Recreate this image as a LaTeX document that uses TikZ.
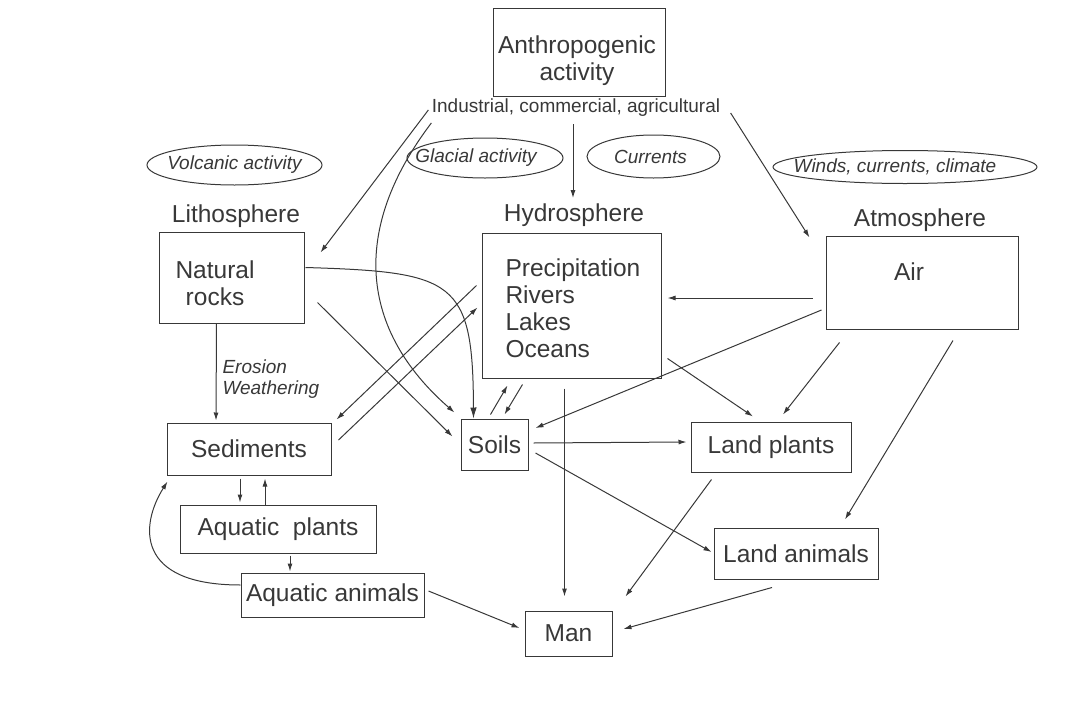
\documentclass[tikz,border=0pt]{standalone}
\usepackage{fontspec}
\setmainfont{Liberation Sans}
\usepackage{tikz}
\usetikzlibrary{shapes.geometric,arrows.meta,calc}
\definecolor{ink}{HTML}{383838}

\begin{document}
\begin{tikzpicture}
[x=1pt, y=-1pt, line width=1pt, color=ink,
 box/.style={draw, rectangle, inner sep=0pt, font=\fontsize{24.5}{27}\selectfont},
 word/.style={inner sep=0pt, font=\fontsize{24.5}{27}\selectfont},
 note/.style={inner sep=0pt, font=\fontsize{19}{21}\selectfont},
 oval/.style={draw, ellipse, inner sep=0pt},
 ovaltext/.style={inner sep=0pt, font=\fontsize{19}{21}\selectfont\itshape},
 arr/.style={-{Latex[length=8pt,width=5pt]}},
 bigarr/.style={-{Latex[length=11pt,width=6.5pt]}}]
\useasboundingbox (0,0) rectangle (1072,718);

\node[box, minimum width=172, minimum height=88] (anthro) at (579,52) {};
\node[word, align=center] (anthrotext) at (577,61) {Anthropogenic\\activity};
\node[note] (ind) at (576,108) {Industrial, commercial, agricultural};

\node[oval, minimum width=175, minimum height=40, label={[ovaltext]center:Volcanic activity}] (volcanic) at (234.5,165) {};
\node[oval, minimum width=156, minimum height=40, label={[ovaltext, xshift=-9]center:Glacial activity}] (glacial) at (485,158) {};
\node[oval, minimum width=133, minimum height=43, label={[ovaltext, xshift=-3]center:Currents}] (currents) at (653.5,156.5) {};
\node[oval, minimum width=264, minimum height=33, label={[ovaltext, xshift=-10]center:Winds, currents, climate}] (winds) at (905,167) {};

\node[word] (litho) at (236,216) {Lithosphere};
\node[word] (hydrolab) at (574,215) {Hydrosphere};
\node[word] (atmo) at (920,220) {Atmosphere};

\node[box, minimum width=145, minimum height=91] (rocks) at (231.5,277.5) {};
\node[word, align=center] (rockstext) at (215,283) {Natural\\rocks};
\node[box, minimum width=179, minimum height=145] (hydro) at (571.5,305.5) {};
\node[word, align=left, anchor=west] (hydrotext) at (505,308) {Precipitation\\Rivers\\Lakes\\Oceans};
\node[box, minimum width=192, minimum height=93] (air) at (922,282.5) {};
\node[word] (airtext) at (909,272) {Air};

\node[box, minimum width=164, minimum height=52] (sed) at (249,449) {Sediments};
\node[box, minimum width=67, minimum height=51] (soils) at (494.5,444.5) {Soils};
\node[box, minimum width=160, minimum height=50] (lplants) at (771,447) {Land plants};
\node[box, minimum width=196, minimum height=48] (aqplants) at (278,529) {Aquatic\ \ plants};
\node[box, minimum width=183, minimum height=44] (aqanimals) at (332.5,595) {Aquatic animals};
\node[box, minimum width=164, minimum height=51] (lanimals) at (796,553.5) {Land animals};
\node[box, minimum width=87, minimum height=45] (man) at (568.5,633.5) {Man};
\node[note, font=\fontsize{19}{21}\selectfont\itshape, align=left, anchor=west] (erosion) at (222,379) {Erosion\\Weathering};

\draw[arr] ($(ind.west)+(-3,2)$) -- ($(rocks.north east)+(16,21)$);
\draw[arr] ($(ind.west)+(0,15)$) .. controls (350,230) and (360,330) .. ($(soils.north west)+(-6,-6)$);
\draw[arr] ($(ind.south)+(-3,7)$) -- ($(hydrolab.north)+(-1,-5)$);
\draw[arr] ($(ind.east)+(10,5)$) -- ($(air.north west)+(-16,2)$);

\draw[arr] ($(rocks.south)+(-15,0)$) -- ($(sed.north)+(-33,-2)$);
\draw[bigarr] ($(rocks.east)+(1,-10)$) .. controls (455,272) and (473,280) .. ($(soils.north)+(-21,0)$);
\draw[arr] ($(rocks.east)+(13,25)$) -- ($(soils.west)+(-8,-8)$);

\draw[arr] ($(hydro.west)+(-5,-20)$) -- ($(sed.north east)+(5,-3)$);
\draw[arr] ($(sed.east)+(7,-9)$) -- ($(hydro.west)+(-4,2)$);
\draw[arr] ($(soils.north)+(-4,-4)$) -- ($(hydro.south west)+(26,7)$);
\draw[arr] ($(hydro.south west)+(41,6)$) -- ($(soils.north)+(10,-4)$);
\draw[arr] ($(hydro.south)+(-7,10)$) -- ($(man.north)+(-4,-14)$);
\draw[arr] ($(hydro.south east)+(6,-20)$) -- ($(lplants.north)+(-18,-5)$);

\draw[arr] ($(air.west)+(-13,15.5)$) -- ($(hydro.east)+(6,-7.5)$);
\draw[arr] ($(air.west)+(-4,27.5)$) -- ($(soils.east)+(7,-16.5)$);
\draw[arr] ($(air.south west)+(14,13)$) -- ($(lplants.north)+(12,-7)$);
\draw[arr] ($(air.south)+(31,11)$) -- ($(lanimals.north)+(49,-8)$);

\draw[arr] ($(soils.east)+(5,-1.5)$) -- ($(lplants.west)+(-4,-5)$);
\draw[arr] ($(soils.east)+(7,8.5)$) -- ($(lanimals.west)+(-2,-1.5)$);
\draw[arr] ($(lplants.south west)+(21,7)$) -- ($(man.north east)+(13,-14)$);
\draw[arr] ($(lanimals.south)+(-24,8)$) -- ($(man.east)+(11,-4.5)$);
\draw[arr] ($(aqanimals.east)+(4,-4)$) -- ($(man.west)+(-5,-5.5)$);

\draw[arr] ($(sed.south)+(-9,3)$) -- ($(aqplants.north)+(-38,-2)$);
\draw[arr] ($(aqplants.north)+(-13,0)$) -- ($(sed.south)+(16,3)$);
\draw[arr] ($(aqplants.south)+(12,2)$) -- ($(aqanimals.north)+(-42.5,-1)$);
\draw[arr] ($(aqanimals.west)+(0,-10)$) .. controls (135,585) and (140,525) .. ($(sed.south west)+(1,6)$);
\end{tikzpicture}
\end{document}
